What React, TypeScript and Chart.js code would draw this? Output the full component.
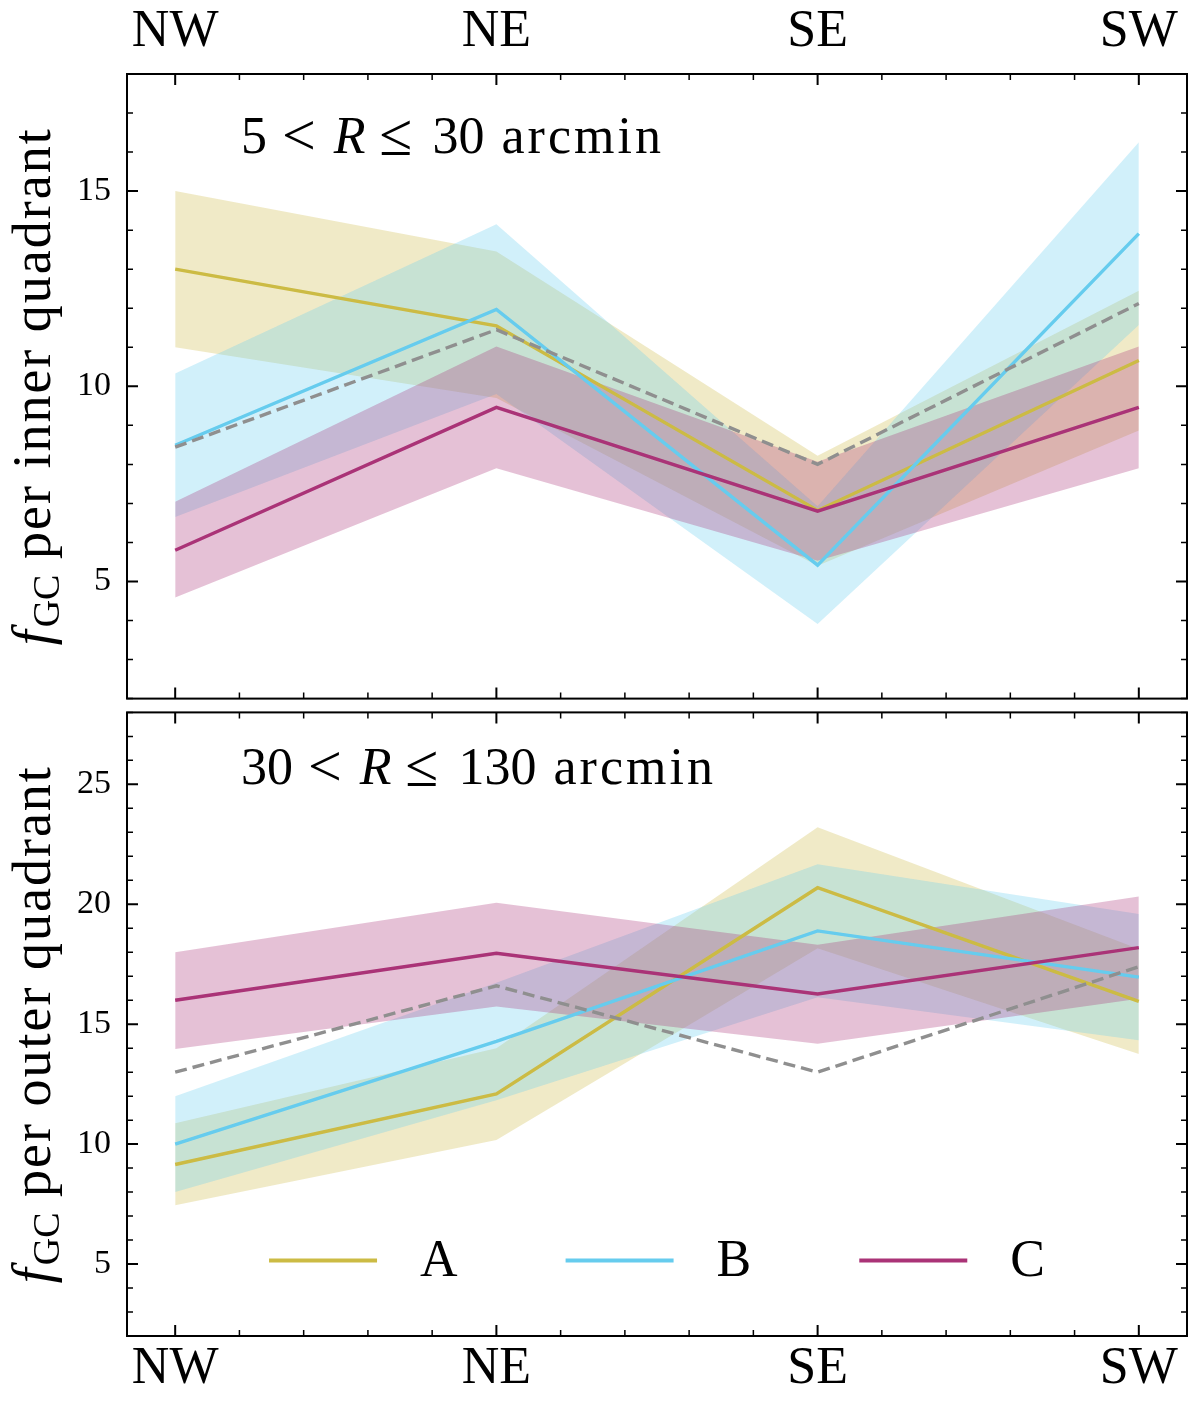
import React, { useEffect, useRef } from 'react';
import { Chart, registerables } from 'chart.js';

Chart.register(...registerables);

// ---------------- data ----------------
const QUADRANTS = ['NW', 'NE', 'SE', 'SW'];
const X_POS = [0, 1, 2, 3];
const SERIES_NAMES = ['A', 'B', 'C'];

// inner quadrants (5 < R <= 30 arcmin)
const INNER_A = [13.0, 11.55, 6.82, 10.66];
const INNER_A_LO = [11.0, 9.7, 5.4, 8.87];
const INNER_A_HI = [15.0, 13.45, 8.22, 12.45];
const INNER_B = [8.49, 11.97, 5.42, 13.91];
const INNER_B_LO = [6.65, 9.8, 3.91, 11.57];
const INNER_B_HI = [10.33, 14.15, 6.93, 16.25];
const INNER_C = [5.8, 9.46, 6.8, 9.46];
const INNER_C_LO = [4.59, 7.9, 5.53, 7.9];
const INNER_C_HI = [7.04, 11.02, 8.07, 11.02];
const INNER_REF = [8.44, 11.45, 8.0, 12.12];

// outer quadrants (30 < R <= 130 arcmin)
const OUTER_A = [9.15, 12.09, 20.69, 15.95];
const OUTER_A_LO = [7.45, 10.17, 18.17, 13.76];
const OUTER_A_HI = [10.87, 14.0, 23.21, 18.14];
const OUTER_B = [10.0, 14.28, 18.89, 16.96];
const OUTER_B_LO = [8.0, 11.83, 16.12, 14.33];
const OUTER_B_HI = [12.0, 16.73, 21.67, 19.59];
const OUTER_C = [16.0, 17.96, 16.26, 18.19];
const OUTER_C_LO = [13.97, 15.74, 14.19, 16.06];
const OUTER_C_HI = [18.0, 20.06, 18.31, 20.32];
const OUTER_REF = [13.0, 16.6, 13.0, 17.4];

const INNER_Y_TICKS = [5, 10, 15];
const OUTER_Y_TICKS = [5, 10, 15, 20, 25];
const INNER_Y_RANGE = [2, 18];
const OUTER_Y_RANGE = [2, 28];
const X_RANGE = [-0.15, 3.15];

const INNER_LABEL = ['5', '<', 'R', '≤', '30', 'arcmin'];
const OUTER_LABEL = ['30', '<', 'R', '≤', '130', 'arcmin'];
const INNER_YTITLE = ' per inner quadrant';
const OUTER_YTITLE = ' per outer quadrant';

// ---------------- styles / layout ----------------
const SERIES_COLORS = ['#CCBB44', '#66CCEE', '#AA3377'];
const SERIES_FILLS = ['rgba(204,187,68,0.3)', 'rgba(102,204,238,0.3)', 'rgba(170,51,119,0.3)'];
const REF_COLOR = '#8f8f8f';
const FONT = '"Liberation Serif", "DejaVu Serif", serif';
const PAGE_H = 1411;
const TOP_AREA_BOTTOM = 699; // bottom edge of upper axes frame
const BOTTOM_AREA_TOP = 712; // top edge of lower axes frame

const pts = (arr: number[]) => arr.map((v, i) => ({ x: X_POS[i], y: v }));

function buildDatasets(mid: number[][], lo: number[][], hi: number[][], ref: number[]) {
  const ds: any[] = [];
  SERIES_NAMES.forEach((name, k) => {
    ds.push({
      label: name + ' lower',
      data: pts(lo[k]),
      borderWidth: 0,
      borderColor: 'rgba(0,0,0,0)',
      pointRadius: 0,
      fill: false,
      order: 20 - k * 2,
    });
    ds.push({
      label: name + ' band',
      data: pts(hi[k]),
      borderWidth: 0,
      borderColor: 'rgba(0,0,0,0)',
      backgroundColor: SERIES_FILLS[k],
      pointRadius: 0,
      fill: '-1',
      order: 20 - k * 2,
    });
  });
  SERIES_NAMES.forEach((name, k) => {
    ds.push({
      label: name,
      data: pts(mid[k]),
      borderColor: SERIES_COLORS[k],
      borderWidth: 3.4,
      pointRadius: 0,
      fill: false,
      order: 6 - k,
      isSeries: true,
    });
  });
  ds.push({
    label: 'reference',
    data: pts(ref),
    borderColor: REF_COLOR,
    borderWidth: 3.4,
    borderDash: [12, 6],
    pointRadius: 0,
    fill: false,
    order: 1,
  });
  return ds;
}

// frame + inward ticks on all four sides
const frameTicksPlugin = {
  id: 'frameTicks',
  afterDatasetsDraw(chart: any) {
    const { ctx, chartArea: a, scales } = chart;
    const xs = scales.x;
    const ys = scales.y;
    const MAJ = 11;
    const MIN = 6;
    ctx.save();
    ctx.strokeStyle = '#000';
    const xTick = (v: number, len: number, w: number) => {
      const p = xs.getPixelForValue(v);
      ctx.lineWidth = w;
      ctx.beginPath();
      ctx.moveTo(p, a.top);
      ctx.lineTo(p, a.top + len);
      ctx.moveTo(p, a.bottom);
      ctx.lineTo(p, a.bottom - len);
      ctx.stroke();
    };
    const yTick = (v: number, len: number, w: number) => {
      const p = ys.getPixelForValue(v);
      ctx.lineWidth = w;
      ctx.beginPath();
      ctx.moveTo(a.left, p);
      ctx.lineTo(a.left + len, p);
      ctx.moveTo(a.right, p);
      ctx.lineTo(a.right - len, p);
      ctx.stroke();
    };
    for (let i = 0; i <= 15; i++) {
      const v = i * 0.2;
      if (i % 5 === 0) xTick(v, MAJ, 2);
      else xTick(v, MIN, 1.5);
    }
    for (let v = Math.ceil(ys.min); v <= ys.max; v++) {
      if (v % 5 === 0) yTick(v, MAJ, 2);
      else yTick(v, MIN, 1.5);
    }
    ctx.lineWidth = 2;
    ctx.strokeRect(a.left, a.top, a.right - a.left, a.bottom - a.top);
    ctx.restore();
  },
};

// annotation, y title and legend
const panelTextPlugin = {
  id: 'panelText',
  afterDraw(chart: any, _args: any, opts: any) {
    const { ctx, chartArea: a } = chart;
    ctx.save();
    ctx.fillStyle = '#000';
    // region annotation
    const gaps = [15, 18, 14, 20, 17];
    let x = a.left + 114;
    const by = a.top + opts.annotY;
    ctx.textBaseline = 'alphabetic';
    ctx.textAlign = 'left';
    opts.annot.forEach((t: string, i: number) => {
      const isSym = t === '<' || t === '≤';
      ctx.font = (t === 'R' ? 'italic ' : '') + (isSym ? '60px ' : '52px ') + FONT;
      (ctx as any).letterSpacing = t === 'arcmin' ? '3px' : '0px';
      ctx.fillText(t, x, by + (isSym ? 2 : 0));
      x += ctx.measureText(t).width + (i < gaps.length ? gaps[i] : 0);
    });
    (ctx as any).letterSpacing = '0px';

    // y title
    const cy = (a.top + a.bottom) / 2;
    ctx.save();
    ctx.translate(50, cy);
    ctx.rotate(-Math.PI / 2);
    ctx.font = 'italic 54px ' + FONT;
    const wf = ctx.measureText('f').width + 3;
    ctx.font = '38px ' + FONT;
    const wgc = ctx.measureText('GC').width;
    ctx.font = '54px ' + FONT;
    (ctx as any).letterSpacing = '2px';
    const wr = ctx.measureText(opts.ytitle).width;
    const total = wf + wgc + wr;
    let tx = -total / 2;
    ctx.font = 'italic 54px ' + FONT;
    (ctx as any).letterSpacing = '0px';
    ctx.fillText('f', tx, 0);
    tx += wf;
    ctx.font = '38px ' + FONT;
    ctx.fillText('GC', tx, 9);
    tx += wgc;
    ctx.font = '54px ' + FONT;
    (ctx as any).letterSpacing = '2px';
    ctx.fillText(opts.ytitle, tx, 0);
    (ctx as any).letterSpacing = '0px';
    ctx.restore();

    // legend
    if (opts.legend) {
      const series = chart.data.datasets.filter((d: any) => d.isSeries);
      const HANDLE = 108;
      const GAP = 43;
      const COL = 108;
      ctx.font = '52px ' + FONT;
      const widths = series.map((d: any) => ctx.measureText(d.label).width);
      const total2 =
        series.length * (HANDLE + GAP) + widths.reduce((s: number, w: number) => s + w, 0) + (series.length - 1) * COL;
      let lx = (a.left + a.right) / 2 - total2 / 2;
      const ly = a.top + opts.legendY;
      ctx.textBaseline = 'middle';
      series.forEach((d: any, i: number) => {
        ctx.strokeStyle = d.borderColor;
        ctx.lineWidth = 4;
        ctx.beginPath();
        ctx.moveTo(lx, ly);
        ctx.lineTo(lx + HANDLE, ly);
        ctx.stroke();
        ctx.fillStyle = '#000';
        ctx.fillText(d.label, lx + HANDLE + GAP, ly + 2);
        lx += HANDLE + GAP + widths[i] + COL;
      });
    }
    ctx.restore();
  },
};

function makeConfig(p: any) {
  return {
    type: 'line',
    data: { datasets: p.datasets },
    plugins: [frameTicksPlugin, panelTextPlugin],
    options: {
      responsive: false,
      maintainAspectRatio: false,
      animation: false,
      devicePixelRatio: 1,
      layout: { padding: p.padding },
      plugins: {
        legend: { display: false },
        tooltip: { enabled: false },
        filler: { drawTime: 'beforeDatasetsDraw', propagate: false },
        panelText: p.text,
      },
      scales: {
        x: {
          type: 'linear',
          position: p.xPos,
          min: X_RANGE[0],
          max: X_RANGE[1],
          afterBuildTicks: (s: any) => {
            s.ticks = X_POS.map((v) => ({ value: v }));
          },
          afterFit: (s: any) => {
            s.height = p.xHeight;
          },
          grid: { display: false, drawTicks: false },
          border: { display: false },
          ticks: {
            autoSkip: false,
            maxRotation: 0,
            padding: p.xPad,
            color: '#000',
            font: { family: FONT, size: 52 },
            callback: (v: number) => {
              const i = X_POS.indexOf(v);
              return i >= 0 ? QUADRANTS[i] : '';
            },
          },
        },
        y: {
          type: 'linear',
          position: 'left',
          min: p.yRange[0],
          max: p.yRange[1],
          afterBuildTicks: (s: any) => {
            s.ticks = p.yTicks.map((v: number) => ({ value: v }));
          },
          afterFit: (s: any) => {
            s.width = 127;
          },
          grid: { display: false, drawTicks: false },
          border: { display: false },
          ticks: {
            padding: 16,
            color: '#000',
            font: { family: FONT, size: 34 },
          },
        },
      },
    },
  };
}

function Panel({ cfg, kind }: { cfg: () => any; kind: 'upper' | 'lower' }) {
  const ref = useRef<HTMLCanvasElement>(null);
  useEffect(() => {
    const canvas = ref.current as HTMLCanvasElement;
    const chart = new Chart(canvas, cfg() as any);
    // place the axes frame where the reference has it
    if (kind === 'upper') {
      const b0 = chart.chartArea.bottom;
      const h = Math.round(canvas.height + (TOP_AREA_BOTTOM - b0));
      chart.resize(1200, h);
    } else {
      const t0 = chart.chartArea.top;
      const top = Math.round(BOTTOM_AREA_TOP - t0);
      canvas.style.top = top + 'px';
      chart.resize(1200, PAGE_H - top);
    }
    return () => chart.destroy();
  }, []);
  return (
    <canvas
      ref={ref}
      width={1200}
      height={705}
      style={{ position: 'absolute', left: 0, top: kind === 'upper' ? 0 : 705, width: 1200, height: 705 }}
    />
  );
}

const innerCfg = () =>
  makeConfig({
    datasets: buildDatasets(
      [INNER_A, INNER_B, INNER_C],
      [INNER_A_LO, INNER_B_LO, INNER_C_LO],
      [INNER_A_HI, INNER_B_HI, INNER_C_HI],
      INNER_REF
    ),
    padding: { left: 0, right: 13, top: 0, bottom: 0 },
    xPos: 'top',
    xHeight: 74,
    xPad: 10,
    yRange: INNER_Y_RANGE,
    yTicks: INNER_Y_TICKS,
    text: { annot: INNER_LABEL, annotY: 79, ytitle: INNER_YTITLE, legend: false },
  });

const outerCfg = () =>
  makeConfig({
    datasets: buildDatasets(
      [OUTER_A, OUTER_B, OUTER_C],
      [OUTER_A_LO, OUTER_B_LO, OUTER_C_LO],
      [OUTER_A_HI, OUTER_B_HI, OUTER_C_HI],
      OUTER_REF
    ),
    padding: { left: 0, right: 13, top: 0, bottom: 0 },
    xPos: 'bottom',
    xHeight: 75,
    xPad: 2,
    yRange: OUTER_Y_RANGE,
    yTicks: OUTER_Y_TICKS,
    text: { annot: OUTER_LABEL, annotY: 72, ytitle: OUTER_YTITLE, legend: true, legendY: 548 },
  });

export default function App() {
  return (
    <div style={{ position: 'absolute', left: 0, top: 0, width: 1200, height: PAGE_H, background: '#fff' }}>
      <Panel cfg={innerCfg} kind="upper" />
      <Panel cfg={outerCfg} kind="lower" />
    </div>
  );
}
